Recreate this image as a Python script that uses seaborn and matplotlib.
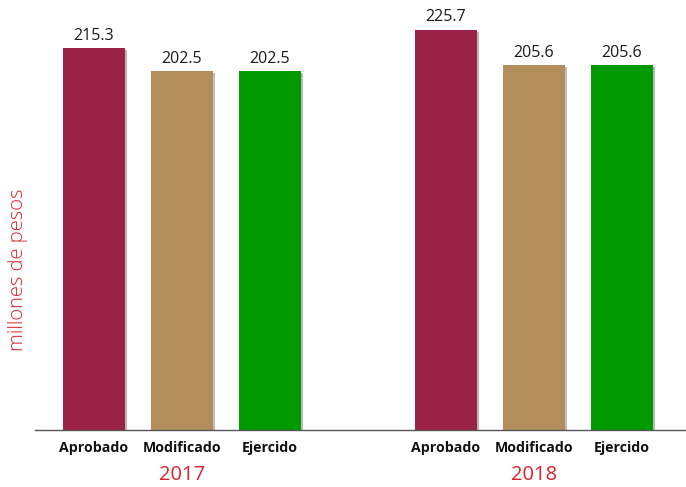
import pandas as pd
import numpy as np
import seaborn as sns
import matplotlib.pyplot as plt
import matplotlib.patheffects as pe

# data
years = ["2017", "2018"]
conceptos = ["Aprobado", "Modificado", "Ejercido"]
valores_2017 = [215.3, 202.5, 202.5]
valores_2018 = [225.7, 205.6, 205.6]
colores = {"Aprobado": "#9b2247", "Modificado": "#b38e5d", "Ejercido": "#009a00"}

rows = []
for year, vals in zip(years, [valores_2017, valores_2018]):
    for c, v in zip(conceptos, vals):
        rows.append({"slot": f"{c} {year}", "concepto": c, "year": year, "valor": v})
df = pd.DataFrame(rows)

# empty slot between the two years
order = [f"{c} 2017" for c in conceptos] + ["gap"] + [f"{c} 2018" for c in conceptos]

sns.set_style("white")
plt.rcParams["font.family"] = ["Open Sans", "DejaVu Sans"]

fig = plt.figure(figsize=(6.86, 4.87), dpi=100)
ax = fig.add_axes([35 / 686, 57 / 487, 651 / 686, 430 / 487])

sns.barplot(data=df, x="slot", y="valor", hue="concepto", order=order,
            palette=colores, dodge=False, width=0.7, legend=False, ax=ax,
            saturation=1, linewidth=0)

for bar in ax.patches:
    bar.set_path_effects([pe.SimplePatchShadow(offset=(1.5, -1.5), alpha=0.3), pe.Normal()])

for cont in ax.containers:
    ax.bar_label(cont, fmt="%.1f", padding=3, fontsize=11.5, color="#1a1a1a")

ax.set_xlim(-0.67, 6.73)
ax.set_ylim(0, 242.4)
ax.set_yticks([])
ax.set_ylabel("")
ax.set_xlabel("")
ax.set_xticks([0, 1, 2, 4, 5, 6])
ax.set_xticklabels(conceptos + conceptos, fontweight="bold", fontsize=10.2, color="#111111")
ax.tick_params(axis="x", length=0, pad=8)
sns.despine(ax=ax, left=True)
ax.spines["bottom"].set_color("#555555")
ax.spines["bottom"].set_linewidth(1)

# year labels under each group
for i, year in enumerate(years):
    ax.text(1 + 4 * i, -0.105, year, transform=ax.get_xaxis_transform(),
            ha="center", va="center", fontsize=14.5, color="#d9232d")

fig.text(18 / 686, 1 - 270 / 487, "millones de pesos", rotation=90,
         ha="center", va="center", fontsize=14.5, color="#d9232d",
         fontweight="light")

fig.savefig("out.png", dpi=100)
